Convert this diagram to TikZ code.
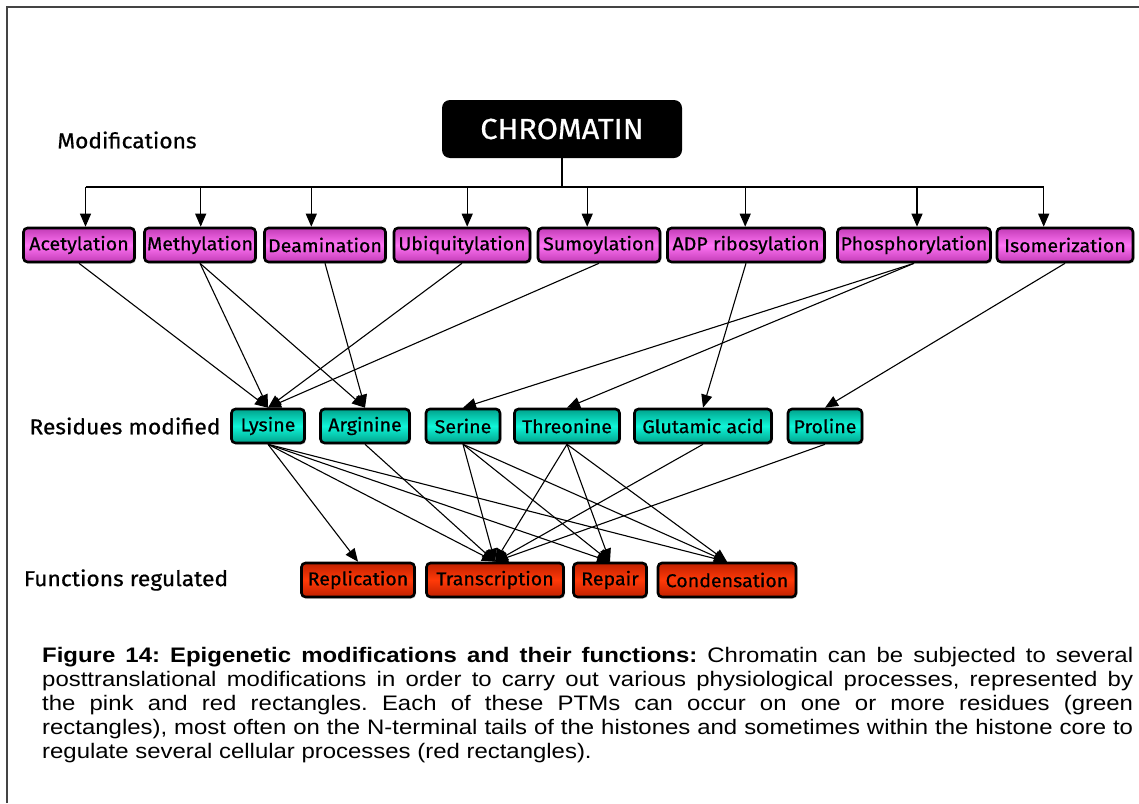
\documentclass[tikz,border=0pt]{standalone}
\usepackage{fontspec}
\setmainfont[FakeStretch=1.14]{Liberation Sans}
\newfontfamily\comicfont[FakeStretch=1.06, FakeBold=0.6]{Fira Sans}
\usepackage{xcolor}
\usetikzlibrary{shadows,arrows.meta,calc}
\definecolor{modPink}{HTML}{FF74F4}
\definecolor{modPinkDark}{HTML}{C23CB6}
\definecolor{resGreen}{HTML}{10F6D8}
\definecolor{resGreenDark}{HTML}{00A28C}
\definecolor{funRed}{HTML}{FF3A08}
\definecolor{funRedDark}{HTML}{C02000}
\definecolor{frameGray}{HTML}{444444}

\tikzset{
  box/.style={draw=black, line width=2.6pt, rounded corners=4pt, inner sep=0pt,
    minimum height=34pt, font=\comicfont\fontsize{18.5}{20}\selectfont,
    drop shadow={shadow xshift=1.5pt, shadow yshift=-1.5pt, opacity=0.35}},
  modbox/.style={box, top color=modPinkDark, bottom color=modPinkDark, middle color=modPink},
  resbox/.style={box, top color=resGreenDark, bottom color=resGreenDark, middle color=resGreen},
  funbox/.style={box, top color=funRedDark, bottom color=funRedDark, middle color=funRed},
  rowlabel/.style={font=\comicfont\fontsize{21.5}{23}\selectfont},
  link/.style={-{Triangle[length=13pt,width=11pt]}, line width=1.1pt},
}

\begin{document}
\begin{tikzpicture}[x=1pt, y=-1pt]
  \useasboundingbox (0,0) rectangle (1139,803);
  % Frame (left and top edges only)
  \draw[frameGray, line width=2pt] (7,803) -- (7,7) -- (1139,7);

  % Chromatin
  \node[fill=black, rounded corners=8pt, minimum width=240pt, minimum height=58pt,
    text=white, font=\comicfont\fontsize{29}{31}\selectfont] (chrom) at (562,129) {CHROMATIN};

  % Row labels
  \node[rowlabel] (lblMod) at (127,140) {Modifications};
  \node[rowlabel] (lblRes) at (125,426) {Residues modified};
  \node[rowlabel] (lblFun) at (126,580) {Functions regulated};

  % Modifications
  \node[modbox, minimum width=111pt] (acet) at (79,245) {Acetylation};
  \node[modbox, minimum width=111pt] (meth) at (200,245) {Methylation};
  \node[modbox, minimum width=121pt] (deam) at (325,245) {Deamination};
  \node[modbox, minimum width=136pt] (ubiq) at (462,245) {Ubiquitylation};
  \node[modbox, minimum width=122pt] (sumo) at (599,245) {Sumoylation};
  \node[modbox, minimum width=157pt] (adpr) at (746,245) {ADP ribosylation};
  \node[modbox, minimum width=153pt] (phos) at (914,245) {Phosphorylation};
  \node[modbox, minimum width=136pt] (isom) at (1065,245) {Isomerization};

  % Residues modified
  \node[resbox, minimum width=73pt] (lys) at (268,426) {Lysine};
  \node[resbox, minimum width=89pt] (arg) at (365,426) {Arginine};
  \node[resbox, minimum width=74pt] (ser) at (463,426) {Serine};
  \node[resbox, minimum width=105pt] (thr) at (567,426) {Threonine};
  \node[resbox, minimum width=137pt] (glu) at (703,426) {Glutamic acid};
  \node[resbox, minimum width=74pt] (pro) at (825,426) {Proline};

  % Functions regulated
  \node[funbox, minimum width=113pt] (repl) at (358,580) {Replication};
  \node[funbox, minimum width=137pt] (tran) at (495,580) {Transcription};
  \node[funbox, minimum width=73pt] (repa) at (610,580) {Repair};
  \node[funbox, minimum width=138pt] (cond) at (727,580) {Condensation};

  % Chromatin to modifications
  \coordinate (busL) at (85.5,187);
  \coordinate (busR) at (1043.7,187);
  \draw[line width=1.1pt] (chrom.south) -- (chrom.south |- busL);
  \draw[line width=1.1pt] (busL) -- (busR);
  \foreach \n/\dx in {acet/6.5, meth/0.7, deam/-13.7, ubiq/5.2, sumo/-11.8, adpr/-0.8, phos/3, isom/-21.3}
    \draw[link] ($(\n.north |- busL)+(\dx,0)$) -- ($(\n.north)+(\dx,0)$);

  % Modifications to residues
  \foreach \a/\b in {acet/lys, meth/lys, meth/arg, deam/arg, ubiq/lys, sumo/lys,
                     adpr/glu, phos/ser, phos/thr, isom/pro}
    \draw[link] (\a.south) -- (\b.north);

  % Residues to functions
  \foreach \a/\b in {lys/repl, lys/tran, lys/repa, lys/cond, arg/tran,
                     ser/tran, ser/repa, ser/cond, thr/tran, thr/repa, thr/cond,
                     glu/tran, pro/tran}
    \draw[link] (\a.south) -- (\b.north);

  % Caption
  \node[anchor=north west, text width=1091pt, align=justify, inner sep=0pt,
    font=\frenchspacing\fontsize{21}{24}\selectfont] (caption) at (42,647)
    {\textbf{Figure 14: Epigenetic modifications and their functions:} Chromatin can be subjected to several\linebreak
     posttranslational modifications in order to carry out various physiological processes, represented by\linebreak
     the pink and red rectangles. Each of these PTMs can occur on one or more residues (green\linebreak
     rectangles), most often on the N-terminal tails of the histones and sometimes within the histone core to\linebreak
     regulate several cellular processes (red rectangles).};
\end{tikzpicture}
\end{document}
